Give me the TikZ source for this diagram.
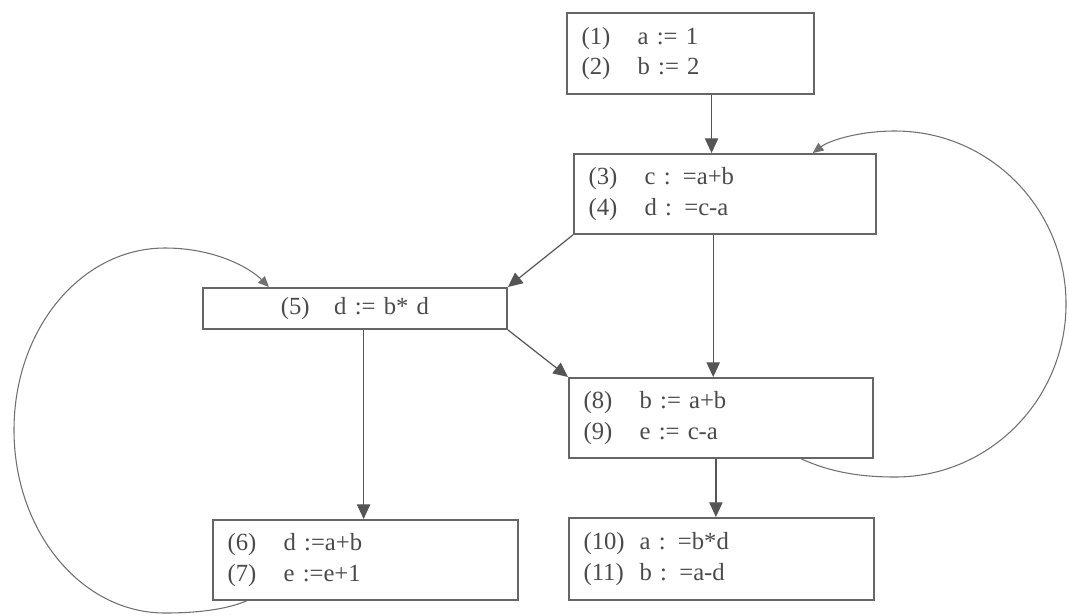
\documentclass[tikz,border=0pt]{standalone}
\usepackage{fontspec}
\setmainfont{Liberation Serif}
\usepackage{tikz}
\usetikzlibrary{arrows.meta,positioning,calc}
\definecolor{BoxGray}{HTML}{666666}
\definecolor{TextGray}{HTML}{4A4A4A}
\definecolor{LineGray}{HTML}{555555}
\definecolor{ArcGray}{HTML}{707070}
\newcommand{\stmt}[2]{\makebox[42pt][l]{#1}#2}

\begin{document}
\begin{tikzpicture}[
  x=0.75pt, y=-0.75pt,
  block/.style={draw=BoxGray, line width=1.4pt, anchor=north west, inner xsep=11pt, inner ysep=0pt, align=left, text=TextGray, font=\fontsize{18.5}{23}\selectfont},
  arrow/.style={-{Triangle[length=11pt,width=10pt]}, line width=0.9pt, draw=LineGray},
  backarc/.style={-{Triangle[length=8pt,width=7pt]}, line width=0.8pt, draw=ArcGray}
]
  \useasboundingbox (0,0) rectangle (1069,615);

  \node[block, text width=163.25pt, minimum height=60.75pt] (b1) at (566,12) {\stmt{(1)}{a := 1}\\\stmt{(2)}{b := 2}};
  \node[block, text width=204.5pt, minimum height=60pt] (b2) at (573,153) {\stmt{(3)}{c : =a+b}\\\stmt{(4)}{d : =c-a}};
  \node[block, text width=206pt, minimum height=30.75pt, align=center] (b5) at (202,287) {(5)\quad d := b* d};
  \node[block, text width=206pt, minimum height=60pt] (b8) at (568,377) {\stmt{(8)}{b := a+b}\\\stmt{(9)}{e := c-a}};
  \node[block, text width=206.75pt, minimum height=60pt] (b6) at (212,519) {\stmt{(6)}{d :=a+b}\\\stmt{(7)}{e :=e+1}};
  \node[block, text width=206.75pt, minimum height=61.5pt] (b10) at (568,517) {\stmt{(10)}{a : =b*d}\\\stmt{(11)}{b : =a-d}};

  \draw[arrow] (b1.-63.2) -- (b1.-63.2 |- b2.north);
  \draw[arrow] (b2.-106.7) -- (b2.-106.7 |- b8.north);
  \draw[arrow] (b8.-97.1) -- (b8.-97.1 |- b10.north);
  \draw[arrow] (b5.-68.7) -- (b5.-68.7 |- b6.north);
  \draw[arrow] (b2.south west) -- (b5.north east);
  \draw[arrow] (b5.south east) -- (b8.north west);

  % back edges
  \draw[backarc] (b8.-27.5) .. controls (830,472) and (860,477) .. (895,477)
    .. controls (990,477) and (1066,399) .. (1066,304)
    .. controls (1066,209) and (990,131) .. (895,131)
    .. controls (860,131) and (830,140) .. (b2.25.5);
  \draw[backarc] (b6.-161) .. controls (225,610) and (195,613) .. (165,613)
    .. controls (81,613) and (14,531) .. (14,430)
    .. controls (14,329) and (81,248) .. (165,248)
    .. controls (215,248) and (250,268) .. (b5.166.3);
\end{tikzpicture}
\end{document}
